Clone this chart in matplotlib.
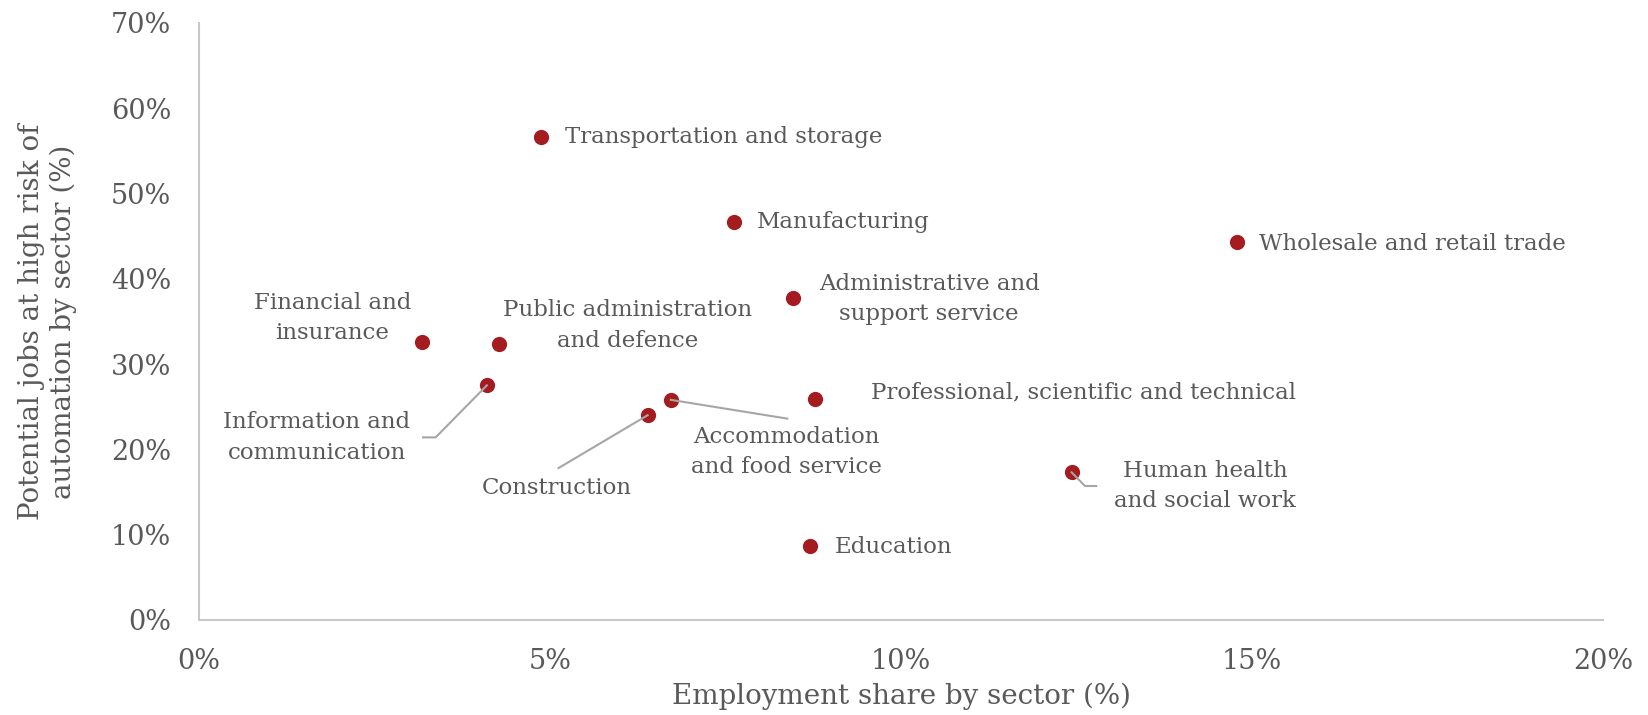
import matplotlib
matplotlib.use("Agg")
import matplotlib.pyplot as plt
from matplotlib.ticker import FuncFormatter

# employment share (%) vs share of jobs at high risk of automation (%)
sectors = [
    "Transportation and storage",
    "Manufacturing",
    "Wholesale and retail trade",
    "Administrative and\nsupport service",
    "Financial and\ninsurance",
    "Public administration\nand defence",
    "Information and\ncommunication",
    "Accommodation\nand food service",
    "Construction",
    "Professional, scientific and technical",
    "Human health\nand social work",
    "Education",
]
emp_share = [4.87, 7.62, 14.78, 8.46, 3.17, 4.27, 4.10, 6.72, 6.39, 8.77, 12.43, 8.71]
risk_share = [56.6, 46.7, 44.3, 37.7, 32.6, 32.4, 27.5, 25.8, 24.0, 25.9, 17.3, 8.7]

# label placement: (x, y, ha) in data units
label_pos = [
    (5.21, 56.6, "left"),
    (7.95, 46.7, "left"),
    (15.10, 44.1, "left"),
    (10.40, 37.6, "center"),
    (1.90, 35.4, "center"),
    (6.11, 34.5, "center"),
    (1.68, 21.4, "center"),
    (8.37, 19.7, "center"),
    (5.10, 15.5, "center"),
    (9.57, 26.7, "left"),
    (14.33, 15.7, "center"),
    (9.06, 8.6, "left"),
]
# leader lines: sector index -> extra vertices after the point
leaders = {
    6: [(3.37, 21.4), (3.19, 21.4)],
    7: [(8.38, 23.6)],
    8: [(5.12, 17.8)],
    10: [(12.62, 15.7), (12.78, 15.7)],
}

red = "#A51C20"
grey_txt = "#595959"
font = "DejaVu Serif"

fig = plt.figure(figsize=(16.48, 7.15), dpi=100)
ax = fig.add_axes([0.1208, 0.133, 0.8519, 0.835])

for i, pts in leaders.items():
    xs = [emp_share[i]] + [p[0] for p in pts]
    ys = [risk_share[i]] + [p[1] for p in pts]
    ax.plot(xs, ys, color="#A6A6A6", lw=1.5, zorder=3)

ax.scatter(emp_share, risk_share, s=120, color=red, zorder=2, linewidths=0)

for name, (tx, ty, ha) in zip(sectors, label_pos):
    ax.text(tx, ty, name, ha=ha, va="center", fontsize=16.5, color=grey_txt,
            family=font, linespacing=1.5)

ax.set_xlim(0, 20)
ax.set_ylim(0, 70)
ax.set_xticks(range(0, 21, 5))
ax.set_yticks(range(0, 71, 10))
pct = FuncFormatter(lambda v, p: f"{v:.0f}%")
ax.xaxis.set_major_formatter(pct)
ax.yaxis.set_major_formatter(pct)
ax.tick_params(length=0, labelsize=19.5, labelcolor=grey_txt, pad=20)
for lab in ax.get_xticklabels() + ax.get_yticklabels():
    lab.set_family(font)

for side in ("top", "right"):
    ax.spines[side].set_visible(False)
for side in ("left", "bottom"):
    ax.spines[side].set_color("#C8C8C8")
    ax.spines[side].set_linewidth(1.5)

ax.set_xlabel("Employment share by sector (%)", fontsize=20, color=grey_txt, family=font)
ax.set_ylabel("Potential jobs at high risk of\nautomation by sector (%)", fontsize=20,
              color=grey_txt, family=font, linespacing=1.2)
ax.xaxis.set_label_coords(0.5, -0.105)
ax.yaxis.set_label_coords(-0.087, 0.5)

fig.savefig("out.png", dpi=100, facecolor="white")
